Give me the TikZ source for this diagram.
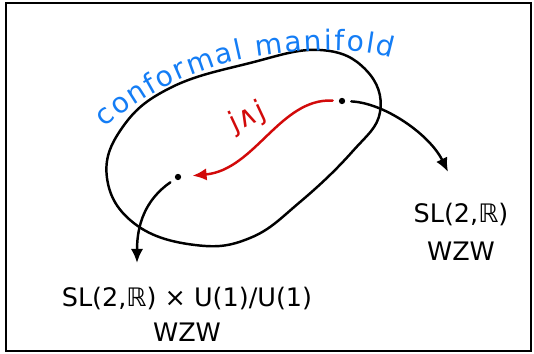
\documentclass[tikz,border=0pt]{standalone}
\usepackage{fontspec}
\setmainfont{DejaVu Sans}
\usepackage{tikz}
\usetikzlibrary{arrows.meta, positioning, calc, decorations.text}
\definecolor{manblue}{RGB}{20,125,245}
\definecolor{flowred}{RGB}{210,10,10}

\begin{document}
\begin{tikzpicture}[x=0.02cm, y=-0.02cm, >={Latex[length=8pt, width=7pt]},
  dot/.style={circle, fill, inner sep=0pt, minimum size=3.6pt, outer sep=3.5pt},
  wzw/.style={font=\fontsize{14.5}{20}\selectfont, align=center, inner sep=0pt},
  curve/.style={line width=1.4pt, line cap=round}]
  % Frame
  \useasboundingbox (0,0) rectangle (534,354);
  \draw[line width=1.5pt] (6,3) rectangle (531,351);
  % Conformal manifold
  \draw[curve] plot[smooth cycle, tension=0.7] coordinates
    {(107,178) (122,128) (170,88) (250,63) (320,50) (366,70) (380,112)
     (352,152) (300,202) (250,238) (195,245) (135,224)};
  \path[decorate, decoration={text along path, text align={fit to path},
    text={|\color{manblue}\fontsize{16}{16}\selectfont|conformal manifold}}]
    (105,128) .. controls (150,88) and (210,62) .. (268,55)
    .. controls (320,48) and (360,48) .. (392,58);
  % Points
  \node[dot] (pa) at (342,101) {};
  \node[dot] (pb) at (178,177) {};
  % Deformation
  \draw[curve, flowred, ->, shorten >=3pt] (pa) .. controls (280,98) and (255,170) .. (pb);
  \node[flowred, rotate=25, font=\fontsize{16}{16}\selectfont] (jj) at (248,118) {j∧j};
  % End points
  \node[wzw] (sla) at (461,232) {SL(2,ℝ)\\[2pt]WZW};
  \node[wzw] (slb) at (187,314) {SL(2,ℝ) × U(1)/U(1)\\WZW};
  \coordinate (tipa) at (448,172);
  \coordinate (tipb) at (137,263);
  \draw[curve, ->] (pa) .. controls (385,103) and (430,135) .. (tipa);
  \draw[curve, ->] (pb) .. controls (145,200) and (137,225) .. (tipb);
\end{tikzpicture}
\end{document}
